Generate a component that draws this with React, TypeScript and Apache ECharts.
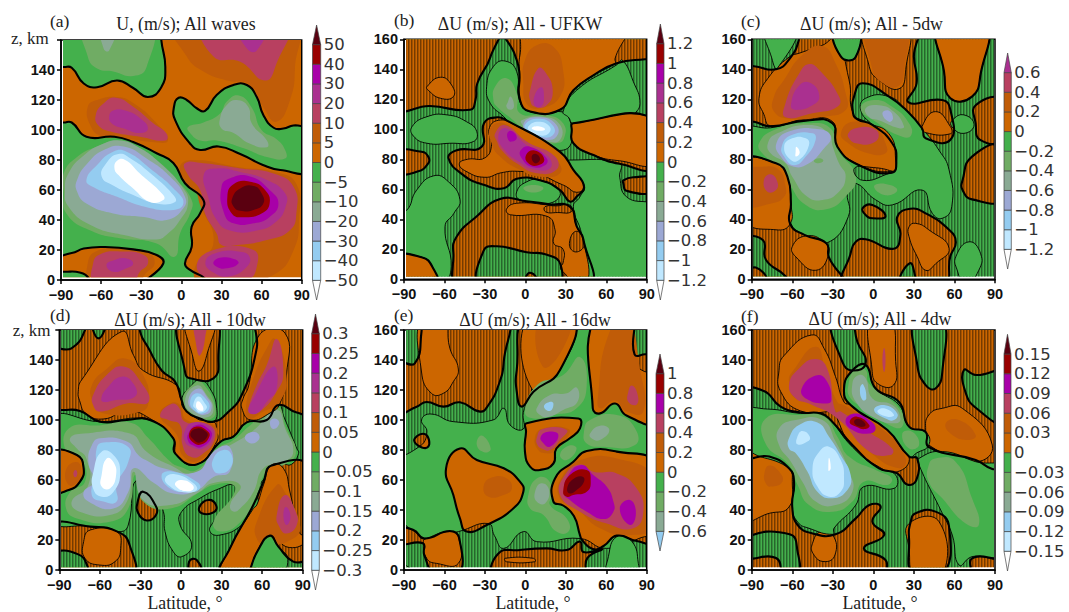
import React, { useEffect, useRef } from "react";
import * as echarts from "echarts";

type Pt = number[];
type Zone = [number, Pt[]];
type Patch = [number, number, Pt[]];

const latitudeTicks = [-90, -60, -30, 0, 30, 60, 90];
const heightTicks = [0, 20, 40, 60, 80, 100, 120, 140, 160];

// Colour levels: -6 white ... 0 green, 1 orange ... 7 maroon; 9 means a significance hatch.
const levelColors: Record<number, string> = {
  [-6]: "#ffffff", [-5]: "#c0e8ff", [-4]: "#94ccf0", [-3]: "#9ca8d4", [-2]: "#8aaa94", [-1]: "#70ac64",
  0: "#44b04c", 1: "#cc6600", 2: "#c05c08", 3: "#b84060", 4: "#aa3090", 5: "#a800a8", 6: "#990000", 7: "#5a0010",
};

const aBarLabels = ["−50", "−40", "−30", "−20", "−10", "−5", "0", "5", "10", "20", "30", "40", "50"];
const bBarLabels = ["−1.2", "−1", "−0.8", "−0.6", "−0.4", "−0.2", "0", "0.2", "0.4", "0.6", "0.8", "1", "1.2"];
const cBarLabels = ["−1.2", "−1", "−0.8", "−0.6", "−0.4", "−0.2", "0", "0.2", "0.4", "0.6"];
const dBarLabels = ["−0.3", "−0.25", "−0.2", "−0.15", "−0.1", "−0.05", "0", "0.05", "0.1", "0.15", "0.2", "0.25", "0.3"];
const eBarLabels = ["−0.6", "−0.4", "−0.2", "0", "0.2", "0.4", "0.6", "0.8", "1"];
const fBarLabels = ["−0.15", "−0.12", "−0.09", "−0.06", "−0.03", "0", "0.03", "0.06", "0.09", "0.12", "0.15"];

const fullBarLevels = [-6, -5, -4, -3, -2, -1, 0, 1, 2, 3, 4, 5, 6, 7];
const cBarLevels = [-6, -5, -4, -3, -2, -1, 0, 1, 2, 3, 4];
const eBarLevels = [-4, -2, -1, 0, 1, 2, 3, 5, 6, 7];
const fBarLevels = [-6, -5, -4, -2, -1, 0, 1, 2, 3, 5, 6, 7];

// ---- Panel (a): U, all waves ----
const aZero: Zone[] = [
  [0, [[-95, 142], [-88, 142], [-82, 141.5], [-73, 131], [-63, 128.5], [-48, 133], [-36, 128], [-25, 122], [-15, 128.5], [-12, 142], [-15, 160], [-15, 170], [-95, 170]]],
  [0, [[-5.5, 115.5], [-2, 121.5], [4, 120], [11.5, 114.5], [17.7, 112.7], [26.4, 123.3], [39, 130], [49, 130], [56.4, 122], [61.3, 110], [69, 101.5], [76.3, 101], [83.8, 103], [90, 102.7], [96, 103], [96, 73.5], [74, 73.3], [61, 76.7], [44, 84], [27.7, 89], [14, 86.7], [6.5, 91], [-4.7, 106.7]]],
  [0, [[-95, 105], [-88, 105], [-82, 105], [-71, 95.5], [-50, 95.5], [-36, 92], [-18.5, 84.5], [-6, 78], [2.7, 64.5], [16.5, 53.3], [14, 44.4], [7.7, 35.5], [7.7, 22], [2.7, 11], [6.5, 6.7], [17.7, 1], [19, -3], [-27, -3], [-13.5, 11], [-18.5, 16.7], [-36, 20.4], [-58, 22], [-73, 21], [-82, 18], [-95, 18]]],
  [0, [[-95, 5.5], [-88, 5.5], [-76, 5], [-69, 1], [-68, -4], [-95, -4]]],
];
const aPatches: Patch[] = [
  [-1, 0, [[-72, 170], [-70, 149], [-63, 141], [-51, 139], [-36, 136], [-26, 142], [-24, 170]]],
  [-2, 0, [[-60, 170], [-58, 154], [-54, 153], [-49, 170]]],
  [-1, 0, [[5, 102], [16.5, 105], [29, 111], [34, 119], [43, 123], [52.6, 115], [60, 100], [71, 94], [77.6, 86.7], [77.6, 81], [64, 82], [46, 88], [26.4, 93], [14, 93], [6.5, 98]]],
  [-2, 0, [[29, 108], [34, 116.7], [41.4, 120], [50, 115.5], [52.6, 104.5], [64, 93], [64, 88.5], [51, 91], [39, 98], [30, 101]]],
  [-1, 0, [[-88, 71], [-78, 82], [-63, 89], [-48, 93], [-36, 90], [-18.5, 80], [-3.5, 66.7], [7.7, 53.3], [6.5, 44.4], [-1, 31], [-5, 15.5], [-18.5, 24.4], [-46, 27.8], [-68, 33], [-86, 44.4], [-88, 57.8]]],
  [-2, 0, [[-84.5, 71], [-73, 83], [-58, 91], [-46, 93], [-33, 89], [-16, 78], [1.5, 61], [5, 51], [-1, 40], [-10, 31], [-18.5, 27], [-43, 30], [-68, 36.7], [-84.5, 49], [-87, 60]]],
  [-3, 0, [[-78, 66.7], [-70, 78], [-58, 86.7], [-43, 89], [-26, 81], [-8.5, 69], [2.7, 55.5], [1.5, 47.8], [-11, 40], [-28, 42], [-51, 44.4], [-71, 51], [-78, 59]]],
  [-4, 0, [[-71, 66.7], [-63, 76.7], [-51, 85.5], [-41, 85.5], [-23.4, 74.4], [-3.5, 59], [1.5, 51], [-6, 46.7], [-28, 49], [-48, 55.5], [-66, 62]]],
  [-5, 0, [[-59.6, 69], [-56, 78], [-47, 84], [-38, 81], [-23, 71], [-6, 56.7], [-4.7, 52], [-18.5, 51], [-36, 56.7], [-51, 63]]],
  [-6, 0, [[-50, 74.4], [-48, 79.5], [-42, 80], [-31, 71], [-13.5, 56.7], [-13.5, 53.3], [-23.4, 52], [-36, 61], [-47, 70]]],
  [2, 0, [[-5, 170], [4, 149], [16.5, 139], [34, 133], [51, 130], [61, 115.5], [71, 105.5], [81.3, 120], [85, 142], [84, 170]]],
  [3, 0, [[16.5, 170], [24, 149], [44, 145.5], [62.6, 133], [71, 144], [78, 170]]],
  [4, 0, [[42, 170], [49, 154.4], [56.4, 153], [62.6, 170]]],
  [2, 0, [[-70, 115.5], [-63, 120], [-48, 122], [-36, 118], [-18.5, 104.5], [-10, 93], [-22, 92], [-45, 95], [-60, 96], [-68, 103]]],
  [3, 0, [[-64, 110], [-58, 117.8], [-49, 121.5], [-36, 115.5], [-21, 104.5], [-11, 97.5], [-12, 93], [-31, 95.5], [-53, 99], [-62, 103]]],
  [4, 0, [[-54, 109], [-51, 113], [-42, 113], [-31, 108], [-25, 101], [-31, 98], [-43, 101], [-52, 104.4]]],
  [2, 0, [[-1, 76], [10, 80], [44, 75], [70, 72], [86, 64], [88, 40], [84, 20], [70, 4], [42, -2], [14, -2], [10, 8], [24, 25], [14, 50], [10, 60], [2, 65]]],
  [3, 0, [[2.7, 77.8], [16.5, 77.8], [44, 74.4], [69, 71], [84, 62], [86, 44.4], [81, 33], [64, 26.7], [41.4, 23.3], [30, 23.3], [26.4, 31], [17.7, 44.4], [14, 60], [5, 70]]],
  [3, 0, [[11.5, 8.9], [24, 20], [54, 20], [56.4, 8.9], [49, 0], [24, 0]]],
  [4, 0, [[18, 12], [26, 18], [44, 18.9], [51, 15.5], [49, 8.9], [36, 2.5], [24, 5]]],
  [5, 0, [[24, 12], [30, 15], [40, 13.8], [42.6, 11], [34, 7.8], [26.4, 8.9]]],
  [4, 0, [[17, 71], [26.4, 74.4], [44, 72], [64, 66.7], [77.6, 57.8], [78, 49], [71, 39], [56.4, 33], [36.4, 33], [26.4, 40], [20, 55.5]]],
  [5, 0, [[30, 62], [36.4, 67.8], [51.4, 69], [66, 60], [72.6, 51], [66, 42], [54, 37.8], [39, 37.8], [32, 44.4]]],
  [6, 0, [[34.4, 55.5], [39, 63.8], [51.4, 65.5], [62.6, 60], [66, 51], [60, 44.4], [46.4, 41.8], [37.7, 44.4]]],
  [7, 0, [[38, 54.4], [44, 61], [54, 62.7], [60, 57.8], [61.3, 51], [54, 46.7], [44, 46.2], [39, 49]]],
  [2, 0, [[-70, 11], [-64, 19], [-46, 21], [-25, 18], [-20, 11], [-27, 4], [-32, -2], [-68, -2]]],
  [3, 0, [[-66, 11], [-61, 17], [-46, 19], [-28, 16.7], [-25, 11], [-31, 5.5], [-36, -1], [-65, -1]]],
  [4, 0, [[-56, 10], [-51, 13], [-41, 14.4], [-36, 11], [-41, 7.8], [-51, 5.5]]],
];

// ---- Panel (b): All - UFKW ----
const bZero: Zone[] = [
  [1, [[-95, 115], [-70.7, 115.5], [-41, 113], [-37, 119.5], [-35.6, 130.7], [-26, 148], [-21, 170], [-95, 170]]],
  [1, [[-16, 170], [-7.7, 149.5], [-4.5, 138.4], [-4, 119.5], [3.5, 111.8], [25.7, 113], [35.6, 126], [50.4, 136], [67.8, 144], [88.8, 146.7], [96, 146.7], [96, 170]]],
  [1, [[-57, 80.7], [-51, 86], [-32.4, 88.4], [-30.7, 104], [-21, 108], [-14, 106], [25.7, 85], [35.6, 73], [43.5, 61.8], [38, 55], [33, 51.8], [25.7, 59.5], [10.9, 66], [-6.4, 67], [-16, 60.7], [-31, 63], [-46, 69.5]]],
  [1, [[-95, 84.7], [-77, 85], [-72, 81.8], [-72, 77.3], [-80, 71.8], [-95, 71.5]]],
  [1, [[-48.5, -4], [-53.4, 17.3], [-51, 28.4], [-36, 42], [-18.8, 53.5], [1, 52], [18, 50], [33, 48.4], [38, 35.5], [43, 26.7], [45.5, -4]]],
  [0, [[-32.4, -4], [-31, 19], [-21, 22], [1, 18], [16, 16.4], [26, 10], [23, -4]]],
  [1, [[-1, -4], [0.5, 1.8], [3.5, 4.4], [8.4, 1], [9, -4]]],
  [1, [[-95, 14.7], [-77, 14.7], [-69, 8.4], [-66, -4], [-95, -4]]],
  [1, [[35.6, 104], [96, 106.7], [96, 75], [70, 77], [50, 83], [35.6, 90.7], [34.4, 99.5]]],
  [1, [[72.7, 66], [80, 68], [96, 67], [96, 58.4], [75, 59], [72.7, 63.8]]],
];
const bPatches: Patch[] = [
  [0, 1, [[-84, 101.8], [-73, 108.4], [-58, 109.6], [-43.5, 105], [-36, 98.4], [-38.6, 91.8], [-56, 90.7], [-73, 90.7], [-83, 95.5]]],
  [0, 1, [[-95, 46], [-88, 46], [-80.6, 59.5], [-68, 69], [-57, 65], [-48.5, 53], [-53, 44], [-59.6, 35], [-55, 8.4], [-61, -4], [-66, -4], [-69, 8.4], [-77, 14.7], [-95, 14.7]]],
  [0, 1, [[-28.7, 128.4], [-23.7, 141.8], [-15, 145.5], [-6.4, 138.4], [-4.5, 119.5], [3.5, 111.8], [25.7, 111.8], [32, 108.4], [34, 90.7], [23, 86], [1, 92.9], [-16, 108.4], [-26, 117.3]]],
  [-1, 0, [[-23.7, 119.5], [-22.5, 128.4], [-14, 134], [-6.4, 124], [-4, 110.7], [15.8, 109.6], [28, 104], [28.7, 94], [23, 90.7], [6, 92.9], [-9, 106], [-21, 115]]],
  [-2, 0, [[-14, 115], [-13, 118], [-11, 121.8], [-8.4, 115.5], [-11, 113]]],
  [-2, 0, [[-2.7, 106], [13.4, 108.4], [25.7, 103], [25.7, 92.9], [15.8, 91.8], [3.5, 95], [-1.5, 101.8]]],
  [-3, 0, [[-1, 104.4], [10.9, 108], [23, 103], [23, 95], [13.4, 92.9], [3.5, 95]]],
  [-4, 0, [[-0.3, 103], [10.9, 107], [20.8, 102], [20.3, 96], [10.9, 94.7], [3.5, 97]]],
  [-5, 0, [[2.2, 101.8], [9.6, 105], [18, 101.8], [17, 97], [9.6, 96], [3.5, 98.4]]],
  [-6, 0, [[4.7, 100.7], [9.6, 102], [14.6, 100], [9.6, 99]]],
  [0, 1, [[33, 79.5], [70, 77], [70, 68], [75, 55], [96, 47], [96, -4], [45.5, -4], [41.7, 30], [35.6, 48.4], [40.5, 55], [43.5, 62.9], [30.7, 77]]],
  [0, 1, [[28, 111.8], [38, 126], [67.8, 143], [72, 146], [80, 132], [85, 117], [80, 108], [82, 106], [35.6, 104], [32, 108]]],
  [0, 1, [[-6.4, 58.4], [1, 65], [10.9, 66], [25.7, 58.4], [18, 50.7], [-4, 53]]],
  [-1, 0, [[-1.5, 60.7], [6, 62.9], [13.4, 60.7], [6, 57.8]]],
  [1, 1, [[2, 170], [-4, 149.5], [-4.5, 138.4], [-4, 119.5], [3.5, 111.8], [25.7, 113], [35.6, 126], [50.4, 136], [66.5, 144], [66.5, 147], [74, 170]]],
  [2, 0, [[-0.3, 146], [8.4, 156], [20.8, 155], [28, 139.5], [25.7, 121.8], [10.9, 114], [1, 117], [-1.5, 130.7]]],
  [3, 0, [[3.5, 126], [9.6, 140.7], [14.6, 138.4], [20.3, 126], [15.8, 116], [7, 115], [3.5, 119.5]]],
  [4, 0, [[7, 122.9], [12, 128], [13.8, 121.8], [12, 115.5], [7.2, 115.5]]],
  [1, 1, [[-49, 77], [-43, 80], [-30, 81], [-25, 90], [-27, 100], [-20, 106], [-8, 103], [25.7, 85], [35.6, 73], [43.5, 61.8], [38, 58], [30, 62], [25, 64], [10, 70], [-6, 72], [-18, 71], [-30, 68], [-44, 72]]],
  [2, 0, [[-26, 100.7], [-16, 104], [-1.5, 93], [23, 79.5], [25.7, 70.7], [10.9, 68.4], [-4, 73], [-18.8, 81.8], [-25, 90.7]]],
  [3, 0, [[-22.5, 97], [-15, 102.7], [1, 91.8], [22, 81.8], [23, 73], [8.4, 70.7], [-6.4, 77.3], [-17.5, 86], [-21, 91.8]]],
  [4, 0, [[-20, 96], [-14, 100.7], [1, 89.6], [17, 81.8], [18.3, 74], [6, 73.3], [-4, 77.8], [-16, 86.7]]],
  [5, 0, [[-13, 98], [-9, 98.4], [-6.4, 94], [-10, 91.8], [-12.6, 92.9]]],
  [5, 0, [[-3.5, 86], [3.5, 88.4], [15.8, 80.7], [14.6, 76], [4.7, 75], [-2.7, 80.7]]],
  [6, 0, [[0.5, 82.9], [7, 85.8], [14, 80], [9.6, 76], [2.2, 77.3]]],
  [7, 0, [[4.7, 81.8], [7.9, 83.6], [10.9, 80], [7.2, 77.3]]],
  [1, 1, [[-73, 128.4], [-63, 134.7], [-54.7, 129.5], [-53.4, 121.8], [-63, 120.7], [-72, 126]]],
  [1, 1, [[-14, 46.7], [-11, 43], [16, 42], [22, 33], [21, 24], [28, 20], [28, 11], [26, 7.3], [31, 1.8], [32, -4], [45.5, -4], [43, 26.7], [38, 35.5], [34, 48], [18, 49.5], [-6.4, 50.7]]],
  [9, 1, [[14.6, 48.4], [24, 49], [33, 49.5], [34, 45], [24, 44.5], [15, 45]]],
  [9, 1, [[38, 32], [43, 26], [42, 20], [35, 19], [33, 26]]],
  [1, 1, [[-95, 14.7], [-77, 14.7], [-69, 8.4], [-66, -4], [-95, -4]]],
  [1, 1, [[35.6, 104], [96, 106.7], [96, 78], [70, 79], [50, 83], [35.6, 90.7], [34.4, 99.5]]],
];

// ---- Panel (c): All - 5dw ----
const cZero: Zone[] = [
  [1, [[-95, 142], [-88.3, 142], [-72, 140], [-62, 147], [-55, 160], [-55, 170], [31, 170], [30, 148.4], [32, 130.7], [26, 118], [51, 119.5], [57, 113], [57, 93], [38.7, 94], [36, 100.7], [24, 113], [11.6, 121.8], [-8, 130.7], [-14.3, 121.8], [-15, 110.7], [-11.8, 106.7], [-0.7, 103], [14, 90.7], [17, 79.5], [13.6, 71], [-10.6, 76], [-26.6, 88.4], [-30.3, 104], [-50, 105.8], [-76, 102], [-88.3, 105], [-95, 105]]],
  [0, [[-29, 170], [-24, 148.4], [-13, 148.4], [-11.8, 170]]],
  [1, [[48.6, 170], [52.3, 138.4], [57, 120.7], [73, 121.8], [79.4, 137], [82.6, 170]]],
  [1, [[-95, 77.8], [-72, 77.3], [-63.6, 68.4], [-61, 50.7], [-61.6, 36.9], [-51, 29.6], [-34.8, 24], [-33, 15], [-23, -4], [-95, -4]]],
  [0, [[-95, 26.7], [-81.6, 26], [-79.5, 13], [-65, 2], [-63, -4], [-75, -4], [-81, 4], [-87, 7.8], [-95, 7.8]]],
  [1, [[-21, -4], [-16.8, 17.3], [-13, 25], [-5.7, 26.7], [15, 20.4], [20, 29.6], [17.7, 41.6], [27.4, 47], [38.7, 44], [56, 33], [61, 24.9], [57, 15.5], [51, -4]]],
  [0, [[19, -4], [27, 10.7], [31, 1.8], [31.5, -4]]],
  [1, [[-8, 47.3], [-0.7, 49.6], [9, 42], [-0.7, 40.7], [-5.7, 42.9]]],
  [1, [[75.7, 116], [96, 119.5], [96, 93], [79, 93], [75.7, 103.8]]],
  [1, [[66, 66], [73, 81.8], [96, 88.4], [96, 54], [73, 53.3], [66, 59.5]]],
];
const cPatches: Patch[] = [
  [0, 1, [[-95, 100], [-76, 101], [-50, 105.8], [-30.3, 104], [-26.6, 88.4], [-10.6, 76], [13.6, 71], [17, 79.5], [14, 90.7], [-0.7, 103], [-9.4, 112.9], [-5.7, 120.7], [11.6, 121.8], [24, 113], [36, 100.7], [48.6, 86], [56, 73], [58, 48.4], [51, 40.7], [43.6, 44], [36, 59.5], [14, 49.6], [1.7, 53], [-13, 64], [-19, 59.5], [-18.5, 41.8], [-35, 24], [-51, 29.6], [-61, 37.3], [-61, 50.7], [-63.6, 68.4], [-72, 77.3], [-95, 77.8]]],
  [1, 1, [[-84.6, 120.7], [-78, 134], [-62, 148.4], [-55, 150.7], [-37.7, 156], [-28, 160], [-18, 133], [-15, 110.7], [-5.7, 105], [11.6, 97], [16.5, 79.5], [14, 72], [-11.8, 77], [-28, 90.7], [-30, 105], [-50, 106.7], [-76, 102.4], [-81, 110]]],
  [2, 0, [[-73.5, 121.8], [-66, 133], [-52.5, 149.5], [-37.7, 155.5], [-28, 144], [-20.5, 124], [-20.5, 112.9], [-37.7, 108.4], [-62, 107], [-73.5, 111.8]]],
  [3, 0, [[-65, 117.3], [-55, 137], [-47.6, 143.5], [-40, 139.5], [-25.4, 121.8], [-26.6, 115], [-45, 110.7], [-65, 108]]],
  [4, 0, [[-61, 116], [-54.5, 129.5], [-46, 130.7], [-40, 121.8], [-45, 116], [-57.4, 112.9]]],
  [2, 0, [[-24, 97.3], [-15.5, 105], [1.7, 100.7], [9, 90.7], [9, 84], [-4, 84], [-19, 91]]],
  [3, 0, [[-18.5, 97.3], [-13, 100.7], [-0.7, 100.7], [4, 96], [-0.7, 90.7], [-13, 90.7], [-18, 94]]],
  [1, 1, [[-5.7, 170], [-3, 141.8], [4, 133], [19, 127], [24, 140], [24, 170]]],
  [2, 0, [[-4.5, 170], [-1, 141], [5, 132], [18, 128.5], [23, 141], [23, 170]]],
  [1, 1, [[48.6, 170], [52.3, 138.4], [57, 120.7], [73, 121.8], [79.4, 137], [82.6, 170]]],
  [1, 1, [[-95, 77.8], [-72, 77.3], [-63.6, 68.4], [-61, 50.7], [-61.6, 36.9], [-72, 33], [-95, 40]]],
  [2, 0, [[-95, 72], [-82, 75], [-70, 73], [-65, 62], [-66, 55], [-74.7, 50.7], [-95, 50]]],
  [3, 0, [[-81, 66], [-76, 70], [-71, 65], [-72, 59.5], [-78.4, 58.4]]],
  [1, 1, [[-60, 21.8], [-50, 28.9], [-36.5, 25], [-33, 17], [-42.6, 6], [-57.4, 15]]],
  [1, 1, [[26.4, 35], [31.3, 37.3], [41, 33], [56, 20.7], [46, 10.3], [38.7, 6], [32.5, 15], [26.4, 28.4]]],
  [1, 1, [[36, 101.8], [46, 111.8], [57, 101.8], [57, 97], [38.7, 97.8]]],
  [-1, 0, [[-84.6, 90.7], [-72, 100], [-48, 104], [-31.8, 100.7], [-26.8, 87], [-13, 68.4], [-20.7, 55], [-35, 46.7], [-50, 49.6], [-61, 62], [-66, 72.9], [-81, 82.9]]],
  [-2, 0, [[-78, 90.7], [-71, 97.3], [-48, 102.9], [-33, 97.3], [-30, 88.4], [-25.4, 77.3], [-20.5, 68.4], [-26.6, 57.3], [-37.7, 52.9], [-48.8, 55], [-60, 68.4], [-65, 77.3], [-76, 84]]],
  [-1, 0, [[-44, 79], [-40, 80.7], [-37, 79], [-41, 77.3]]],
  [-3, 0, [[-71.7, 90.7], [-62, 98.7], [-40, 100], [-31.5, 95], [-37.7, 86], [-47.6, 77.3], [-58.7, 75], [-68.5, 81.8]]],
  [-4, 0, [[-67.8, 88.4], [-61, 96], [-45, 97.3], [-42.7, 92.9], [-50, 81.8], [-58.7, 76], [-66, 81.8]]],
  [-5, 0, [[-66, 88.4], [-60, 94], [-50, 94], [-47.6, 89.6], [-55, 79.5], [-61, 79.5]]],
  [-6, 0, [[-57.5, 85], [-57, 88.4], [-54.5, 84.4], [-57.4, 81.8]]],
  [-1, 0, [[-9.4, 114], [0.5, 119.5], [14, 115], [26.4, 104], [28, 96], [21.4, 95], [1.7, 105]]],
  [-2, 0, [[-5.7, 114], [4, 116], [15, 111.8], [22.7, 101.8], [19, 100.7], [4, 106], [-3, 108]]],
  [-3, 0, [[6.7, 110.7], [11.6, 112.4], [14.5, 107.3], [11.6, 105]]],
  [-1, 0, [[0.5, 61.8], [9, 63.6], [17.7, 59.5], [9, 56]]],
  [0, 1, [[-79.6, 170], [-74.7, 146], [-71, 140.7], [-56, 170]]],
  [0, 1, [[-29, 170], [-24, 148.4], [-13, 148.4], [-11.8, 170]]],
  [0, 1, [[58.4, 106], [67, 109.6], [74.5, 103], [67, 97.3], [58, 101.8]]],
  [0, 1, [[61, 15], [70.8, 25], [79.4, 17], [78, 6], [68, -4], [62, 6.2]]],
  [9, 1, [[-14, 74], [-8, 66], [13, 71], [14, 72], [0, 74.5]]],
];

// ---- Panel (d): All - 10dw ----
const dZero: Zone[] = [
  [1, [[-95, 146], [-81, 147.8], [-71, 160], [-71, 170], [-30.3, 170], [-30.3, 159], [-24, 147.8], [-14.3, 133], [-4.4, 125.6], [0.5, 113], [4.2, 105.6], [14, 101], [24, 98.9], [33.8, 104.4], [44.9, 116.7], [56, 147.8], [57, 170], [95, 170], [95, 105], [85.6, 105], [72, 110], [63.4, 100], [48.6, 98.4], [38.7, 88.9], [30, 86], [11.6, 70.4], [-4.4, 77.8], [-5.7, 87.8], [-23, 100], [-40, 100], [-60, 98.9], [-74.7, 106], [-88.3, 106.7], [-95, 106.7]]],
  [1, [[-1, 170], [3, 132], [6.7, 127.8], [24, 127.8], [27.6, 141], [24, 170]]],
  [1, [[-95, 77.8], [-77, 76.7], [-72, 67.8], [-74.7, 58.9], [-83, 53.3], [-95, 52.7]]],
  [1, [[30, -4], [36.2, 14.4], [53.5, 43.3], [61, 58.9], [67, 69.6], [95, 67.8], [95, -4]]],
  [0, [[50, -4], [51, 0], [57, 13.3], [65.8, 22.9], [72, 15.6], [83, 5.6], [95, 5], [95, -4]]],
  [1, [[-95, 28.9], [-67, 28.9], [-47, 25.6], [-38, 16.7], [-37, -4], [-95, -4]]],
  [0, [[-95, 10.4], [-76, 10.4], [-67.8, 0], [-67, -4], [-95, -4]]],
  [1, [[-32, 45.6], [-28, 52.2], [-19, 43.3], [-18.5, 36.7], [-25.4, 33], [-31.6, 37.8]]],
  [1, [[13.6, 42], [20, 46.7], [25.9, 43.3], [24, 38.4], [15.3, 37.8]]],
  [1, [[6, 5.6], [11.6, 6.7], [15.3, -4], [8, -4]]],
  [0, [[-66, 170], [-61, 154.4], [-55, 170]]],
];
const dPatches: Patch[] = [
  [0, 1, [[-95, 100], [-60, 98.9], [-23, 100], [-5.7, 87.8], [-4.4, 77.8], [11.6, 70.4], [28.8, 85.6], [38.7, 88.9], [48.6, 98.4], [72, 110], [75.7, 103], [85.6, 81], [87, 77.8], [81.6, 70.4], [74, 70.4], [61.6, 61], [56.6, 52], [56.6, 43], [45, 30], [28.8, 23.3], [21.5, 25.6], [24, 32], [41, 51], [38.7, 56.7], [28.8, 54.4], [14, 47.8], [0.5, 38.9], [-0.7, 30], [7.9, 16.7], [0.5, 8.9], [-5.7, 12.2], [-11.8, 25.6], [-13, 38.9], [-18, 45.6], [-32.8, 60], [-39, 30], [-45, 25.6], [-67, 28.9], [-95, 34.4]]],
  [-1, 0, [[-83, 94.4], [-60, 96.4], [-36.7, 98], [-24, 87.8], [-8, 72.4], [-0.7, 68.9], [11.6, 66.7], [26.4, 81], [38.7, 86.7], [51, 96.4], [70.8, 108.9], [78, 94.4], [85, 79], [78, 71], [63.4, 65.5], [56, 50], [44, 32], [29, 25.6], [24, 32], [38.7, 50], [38.7, 56.7], [24, 56.7], [14, 52], [-8, 41], [-28, 45.6], [-34, 63.3], [-39, 41], [-52.5, 32.2], [-77, 34.4], [-85, 41], [-82, 52], [-71, 58.9], [-74, 74.4], [-85, 79]]],
  [-2, 0, [[-82, 87.8], [-72, 91], [-37.7, 91], [-25.4, 78.9], [-8, 70], [11.6, 63.3], [24, 78], [38.7, 84.4], [53.5, 93], [70.8, 106.7], [77, 94.4], [83, 78.9], [75.7, 72], [61, 67.8], [53.5, 52], [43.7, 41], [38.7, 39], [36.3, 43.3], [43.7, 56.7], [24, 58], [11.6, 51], [-8, 43.3], [-28, 46.7], [-35, 65.5], [-40, 45.6], [-52.5, 36.7], [-75, 38.9], [-80.8, 45.6], [-68.5, 56.7], [-70, 74.4], [-77, 81]]],
  [-3, 0, [[-66, 83], [-60, 87.8], [-40, 85.6], [-31.6, 76.7], [-25.4, 73], [-13, 67.8], [11.6, 65.5], [24, 78.9], [36, 82], [36, 65.5], [24, 62], [11.6, 53], [-5.6, 51], [-20, 58], [-35, 67.8], [-39, 52], [-50, 41], [-68.5, 45.6], [-72, 52], [-64.6, 58.9], [-68.5, 72]]],
  [-3, 0, [[47.3, 88.9], [54.7, 92], [58, 87.8], [52, 84.4]]],
  [-3, 0, [[65.8, 98.9], [69.5, 101], [72.7, 97.8], [68.3, 94]]],
  [-4, 0, [[-62.4, 81], [-57.4, 85], [-39, 82], [-39, 72], [-47.6, 56.7], [-47.6, 45.6], [-57.4, 45.6], [-66, 50], [-62.4, 65.5]]],
  [-4, 0, [[24, 74.4], [31.3, 80], [37.5, 76.7], [36.3, 67.8], [28.8, 64.4], [24, 66.7]]],
  [-4, 0, [[-14.3, 63.3], [-5.7, 65.5], [11.6, 58.9], [14, 54.4], [6.7, 52], [-8, 54.4]]],
  [-5, 0, [[-64.8, 65.5], [-58.7, 78.9], [-50, 76.7], [-45, 65.5], [-50, 52], [-58.7, 48.9], [-65, 54.4]]],
  [-5, 0, [[-11.8, 61], [-4.4, 63.8], [9, 58], [11.6, 53.3], [1.7, 51.8], [-8, 55.6]]],
  [-6, 0, [[-58.7, 63.3], [-55, 74.4], [-50, 72], [-48, 63.3], [-52.5, 54.4], [-58.7, 55.6]]],
  [-6, 0, [[-4.4, 57.8], [0.5, 60], [8.6, 56.7], [8.6, 53.3], [3, 52.7], [-2, 54.4]]],
  [1, 1, [[-76, 119], [-73.5, 126.7], [-44, 158.9], [-35, 143], [-28, 133], [-3, 123], [0.5, 113], [11.6, 101], [24, 98.9], [26.4, 93], [26.4, 85.6], [11.6, 70.4], [-3, 76], [-5.7, 87.8], [-23, 101], [-40, 106], [-57, 100.7], [-70, 104], [-75, 112.9]]],
  [2, 0, [[-66, 123], [-55, 134], [-41.4, 141], [-28, 130], [-24, 112], [-30, 105.5], [-57, 104.4], [-65, 112]]],
  [3, 0, [[-65, 116.7], [-55, 130], [-42.6, 135.6], [-30, 125.6], [-24, 112], [-40, 111], [-60, 105.6], [-65, 110]]],
  [4, 0, [[-59, 114], [-55, 121], [-44, 128.9], [-35, 124], [-34, 115.6], [-50, 113], [-57, 112]]],
  [2, 0, [[-15.5, 103], [-8, 111], [-0.7, 110], [4, 100], [24, 96.7], [26.4, 87.8], [14, 73.3], [1.7, 75.6], [-3, 90]]],
  [3, 0, [[-15.5, 103], [-8, 110.4], [-2, 109], [3, 98.9], [21.4, 96.7], [25, 87.8], [15, 76.7], [6.7, 75.6], [1.2, 83], [-0.7, 96.7], [-9.4, 100]]],
  [4, 0, [[3, 93], [9, 98.4], [21.4, 95.6], [24, 89], [16.5, 81], [8, 82], [3, 85.6]]],
  [5, 0, [[5.4, 91], [11.6, 96.7], [20, 94.4], [22.7, 89], [15.3, 82], [9, 83], [5.4, 85.6]]],
  [6, 0, [[6, 91], [11.6, 95.6], [19.5, 92.7], [21, 89], [15.3, 83.8], [9, 85]]],
  [7, 0, [[7, 91], [12, 94.4], [18.5, 92.2], [19.5, 89], [14, 85], [9.6, 86.7]]],
  [0, 1, [[0.5, 113.3], [6.7, 122], [14, 126.7], [21.4, 121], [26.4, 107.8], [24, 98.9], [14, 101], [4.2, 105.6]]],
  [-1, 0, [[1.2, 113], [11.6, 125.6], [16.5, 124], [25, 110], [22.7, 101], [9, 103.3]]],
  [-2, 0, [[3, 113], [11.6, 123], [19, 116.7], [24, 107.8], [20, 102], [9, 104]]],
  [-3, 0, [[5.4, 113], [12.8, 121], [20, 114.4], [22.7, 108.9], [19, 103.8], [10.4, 105.6]]],
  [-4, 0, [[6.7, 112], [11.6, 117.8], [19, 113.3], [21, 107.8], [16.5, 104.4], [10.4, 106]]],
  [-5, 0, [[9, 110], [12.8, 115.6], [17.7, 111], [19, 107.8], [14, 105], [10.4, 107.8]]],
  [-6, 0, [[11.6, 112], [14, 112], [16.5, 106.7], [12, 107.3]]],
  [1, 1, [[4.2, 170], [9, 141], [13.3, 132.6], [19, 143], [24, 170]]],
  [3, 0, [[10, 170], [11.6, 147.8], [14, 143], [17.7, 154], [18.2, 170]]],
  [1, 1, [[46, 114.4], [49.8, 122], [58, 156.7], [77, 157.8], [78, 130], [73, 110.7], [66.5, 105], [51.7, 100], [45, 107.8]]],
  [2, 0, [[48, 107.8], [53.5, 127.8], [63.4, 147.8], [69.5, 154], [78, 130], [73, 112], [61, 105.6], [50, 101]]],
  [3, 0, [[50, 107.8], [56, 123.3], [63.4, 136.7], [70.8, 154], [75.7, 132], [70.8, 119], [58.4, 105.6], [51, 104.4]]],
  [4, 0, [[50, 105.6], [53.5, 114.4], [68.3, 135.6], [70.8, 121], [63.4, 112], [56, 104.4]]],
  [1, 1, [[-95, 77.8], [-77, 76.7], [-72, 67.8], [-74.7, 58.9], [-83, 53.3], [-95, 52.7]]],
  [2, 0, [[-85, 67], [-77, 72], [-73.5, 65.5], [-76, 58.9], [-83, 56.7]]],
  [3, 0, [[-79.6, 64.4], [-78, 66.7], [-76.7, 64.4], [-78.2, 61.8]]],
  [1, 1, [[30, -4], [36, 14.4], [53.5, 41], [56, 43.3], [61, 56.7], [67, 70], [75.7, 67.8], [80.6, 52], [88, 24.4], [95, 24], [95, 20], [80, 15], [65.8, 22.9], [57, 13.3], [51, -4]]],
  [2, 0, [[56, 32], [70.8, 56.7], [76.7, 52], [88, 30], [83, 21], [63.4, 16.7], [56, 21]]],
  [3, 0, [[70.8, 36.7], [76.9, 50], [84.3, 40], [85.6, 30], [78, 24.4], [72.7, 28.9]]],
  [4, 0, [[75.7, 36.7], [77.7, 42], [81, 35.6], [78, 30]]],
  [1, 1, [[-72, 18.9], [-67, 26.7], [-47.6, 25.6], [-44.6, 14.4], [-48.8, 5.6], [-60, 3.3], [-71, 7.8]]],
  [0, 1, [[50, -4], [51, 0], [57, 13.3], [65.8, 22.9], [72, 15.6], [79, 7], [72, -4]]],
];

// ---- Panel (e): All - 16dw ----
const eZero: Zone[] = [
  [1, [[-95, 137.8], [-82, 137.8], [-77, 159], [-77, 170], [-16, 170], [-16, 139], [-20, 123], [-27.4, 110], [-33.6, 105.6], [-48.5, 111.8], [-60.8, 108.9], [-73.2, 112], [-80.6, 108.9], [-95, 105]]],
  [1, [[1, 170], [-6.4, 133.3], [-6.4, 119], [-2.7, 108.9], [6, 118.9], [25.7, 133.3], [35.6, 170]]],
  [1, [[51.7, 170], [50, 107.8], [55.4, 104.4], [66.5, 111], [75, 103], [96, 99.3], [96, 143.8], [88.8, 143.8], [81, 143.8], [77.6, 170]]],
  [1, [[1, 97.8], [39.3, 101], [40.5, 94.4], [33, 87.8], [23, 81], [20.8, 71], [10.9, 66.7], [3.5, 68.9], [-0.3, 78.9], [0.5, 92.2]]],
  [1, [[-58.8, 67.8], [-48.5, 81], [-36, 73.3], [-16, 67.8], [-4, 58.9], [-1.5, 52.2], [-9, 41], [-28.7, 30], [-43.5, 25.6], [-48.5, 34.4], [-53.4, 50]]],
  [1, [[20.8, 45.6], [22, 61], [35.6, 72.2], [45.5, 79.3], [67.8, 78.9], [96, 70], [96, 19], [82.6, 19.3], [67.8, 22.9], [58, 16], [50, 14], [42, 20], [40.5, 23.3], [36, 36], [28, 43]]],
  [1, [[-82, 87.8], [-74, 90.4], [-72, 82.2], [-80, 83.3]]],
  [1, [[-95, 27.3], [-83, 26.7], [-75, 21], [-56, 26], [-49, 21], [-49.7, -4], [-66, -4], [-75, 10], [-76, 17.8], [-95, 17.8]]],
  [1, [[-22.5, -4], [-20, 11], [-4, 13.3], [15.8, 14.4], [30.7, 13.3], [40.5, 19], [43, 12], [57, 14], [46, 8], [42, -4]]],
];
const ePatches: Patch[] = [
  [9, 1, [[-95, 170], [2.2, 170], [4.7, 121], [-1.5, 105], [-1.5, 94], [-11.4, 96.7], [-16, 107.8], [-24, 100], [-53.4, 98.9], [-70, 104], [-77, 100], [-73, 92], [-79, 82], [-95, 79]]],
  [9, 1, [[77.6, 170], [96, 170], [96, 134], [85, 134], [81, 143.8]]],
  [9, 1, [[-95, 32], [-84, 26.7], [-73.2, 21], [-49.7, 25.6], [-27.4, 31], [-23, 23], [-16, 14.4], [-1.5, 25.6], [8.4, 18.9], [40.5, 21], [60, 14.4], [96, 21], [96, -4], [-95, -4]]],
  [1, 1, [[-77, 170], [-77, 132], [-69.7, 117.8], [-60.8, 117.8], [-53.4, 125.6], [-49.7, 134], [-56, 147.8], [-61, 170]]],
  [1, 1, [[2.2, 170], [4.7, 121], [25.7, 133.3], [35.6, 170]]],
  [2, 0, [[10.9, 170], [12.9, 135.6], [28, 147.8], [32, 170]]],
  [1, 1, [[-75.7, 18.9], [-73.2, 21], [-56, 25.6], [-49.7, 22], [-49.7, 4.4], [-65.8, 4.4], [-73.2, 7.8]]],
  [1, 1, [[-15, 7.8], [6, 7.8], [7, 5.5], [-14, 5.5]]],
  [0, 1, [[-95, 5], [-80, -4], [-95, -4]]],
  [0, 1, [[61.6, -4], [61.6, 8.9], [67.8, 22.2], [79, 19], [83.8, 4.4], [83, -4]]],
  [2, 0, [[54, 116.7], [61.6, 156.7], [75, 170], [85, 134], [87.5, 105.6], [75, 105.6], [66.5, 113], [55.4, 107.8]]],
  [3, 0, [[76.4, 119], [79, 123], [83, 117.8], [82.6, 110.4], [76.4, 112]]],
  [2, 0, [[7.2, 88.9], [13.4, 94.4], [32, 94], [30.7, 87.8], [20.8, 78.9], [15.8, 77.8], [9.6, 80]]],
  [3, 0, [[8.4, 87.8], [12.9, 94], [30.7, 93.3], [25.7, 86.7], [18.3, 80], [12, 81], [9, 83.3]]],
  [5, 0, [[11.4, 88.9], [17, 92.2], [24.5, 90], [18.3, 82.2], [12.9, 85]]],
  [2, 0, [[-31, 55.6], [-25, 61.6], [-13.8, 61], [-10, 54.4], [-16, 50], [-27.4, 48.9]]],
  [2, 0, [[25, 48.9], [28, 63.3], [40.5, 73.3], [67.8, 74.4], [96, 61], [96, 30], [77.6, 23.3], [55.4, 27.8], [38, 41]]],
  [3, 0, [[25.7, 50], [29.4, 63.3], [40.5, 70.4], [50.4, 65.5], [67.8, 64.4], [82.6, 54.4], [87.5, 38.9], [80, 27.8], [60.3, 31], [40.5, 38.9]]],
  [5, 0, [[28.7, 51], [32, 63.3], [41.8, 70], [50.4, 63.3], [60.3, 55.6], [65.3, 45.6], [65.3, 38.9], [58, 34], [45.5, 38.9], [33, 46.7]]],
  [5, 0, [[70, 41], [77.6, 46.7], [82, 37.8], [77.6, 30]]],
  [6, 0, [[28, 52.2], [33, 63.3], [45.5, 66.7], [48.5, 58.9], [45.5, 52.2], [35.6, 50], [30.7, 48.9]]],
  [7, 0, [[31, 54.4], [35.6, 60.7], [42.5, 62.2], [43.5, 58.9], [38, 53.3], [33, 51]]],
  [-1, 0, [[-36, 83.3], [-32.4, 89.6], [-25.7, 81], [-30, 78.4]]],
  [-1, 0, [[-0.3, 105.6], [8.4, 123], [28, 130], [40.5, 142], [45.5, 123], [38, 107.8], [20.8, 103.3], [6, 101]]],
  [-2, 0, [[8.4, 107.8], [18.3, 116.7], [30.7, 117.8], [38, 121.6], [38.6, 112], [28, 106.7], [17, 102], [10.9, 103.3]]],
  [-4, 0, [[13.8, 108.9], [17.8, 112], [20.8, 111], [18.3, 106]]],
  [-1, 0, [[43.5, 92.2], [48, 100], [67.8, 103.3], [81.4, 94.4], [81.4, 83.3], [57.9, 82.2], [45.5, 84.4]]],
  [-2, 0, [[48, 91], [55.4, 96.2], [62.3, 93.3], [55.4, 86.7], [49, 87.8]]],
  [-1, 0, [[25.7, 76.7], [32, 82.9], [38, 81], [30.7, 73.3]]],
  [-1, 0, [[2.2, 50], [8.4, 61], [17, 60], [19.5, 50], [18.3, 43.3], [30.7, 34.4], [32, 25.6], [23, 25.6], [13.4, 36.7], [3.5, 41]]],
  [-2, 0, [[7.2, 52.2], [12, 57.8], [17.6, 53.3], [14.6, 44.4], [8.4, 45.6]]],
];

// ---- Panel (f): All - 4dw ----
const fZero: Zone[] = [
  [0, [[-95, 119], [-81, 119.3], [-68.6, 108.9], [-53.7, 105], [-39, 104.4], [-31.6, 100], [-15.5, 83.3], [4.2, 67.8], [17.7, 64.4], [25, 57], [31.8, 60], [32.5, 74.4], [26.4, 75.6], [10.4, 93.3], [-16.8, 110], [-21.7, 121], [-15.5, 133], [-5.7, 136.7], [1.7, 121], [19, 112], [26.4, 95.6], [38.7, 92], [41, 82], [75.7, 73.3], [88, 67.3], [96, 67.3], [96, 11], [73, 7.8], [70.8, -4], [11.6, -4], [9, 6.7], [-7, 14.4], [8, 23.3], [-0.7, 32.2], [5.4, 42.2], [-3, 43.3], [-13, 34.4], [-28, 23.8], [-45, 24.4], [-56, 30], [-60, 42], [-58.7, 58.9], [-62.4, 67.8], [-77, 75.6], [-95, 76.7]]],
  [1, [[30, -4], [26.4, 21], [27.6, 32], [31.3, 37.8], [46, 38.9], [56, 28.9], [51, -4]]],
  [0, [[-95, 21], [-62, 23.8], [-56, 12], [-56, -4], [-66, -4], [-72, 8], [-95, 8.9]]],
  [0, [[-31.6, 170], [-23, 138.9], [-15.5, 133], [-5.7, 137.8], [-11.8, 152], [-18, 170]]],
  [0, [[31.3, 170], [32.5, 136.7], [38.7, 123.3], [46, 121], [51, 132], [50.5, 170]]],
  [0, [[67, 133.3], [75.7, 130], [96, 131], [96, 98.9], [76, 108], [68, 119]]],
];
const fPatches: Patch[] = [
  [1, 1, [[-69.8, 133], [-66, 143], [-45.6, 156.7], [-36.5, 147.8], [-28, 128.9], [-21.7, 112], [-16.8, 110], [10.4, 93.3], [26.4, 75.6], [17.7, 65.5], [1.7, 70], [-15.5, 82.2], [-26.6, 100.7], [-26.6, 105], [-53.7, 106], [-68.6, 119]]],
  [2, 0, [[-60, 132], [-42.6, 148.9], [-35, 132], [-26.6, 112], [-21.7, 110], [10.4, 91], [24, 74.4], [19, 67.8], [-3, 79], [-23, 99], [-34, 110], [-57.4, 114.4], [-62.4, 125.6]]],
  [3, 0, [[-62.4, 123.3], [-55, 134.4], [-42.6, 140.7], [-34, 134], [-28, 105.6], [-24, 105.6], [-5.7, 93.3], [14, 81], [12.8, 76.7], [-3, 79], [-26.6, 101], [-47.6, 111], [-57.4, 114.4]]],
  [5, 0, [[-53, 121], [-42.6, 129.6], [-35, 126.7], [-31, 113.3], [-35, 111], [-50, 114.4]]],
  [5, 0, [[-20.5, 100], [-13, 104.4], [-3, 100], [1.7, 94.4], [-3, 91], [-15.5, 93.3]]],
  [6, 0, [[-17.5, 98.9], [-12, 102.2], [-3, 96.7], [-5.7, 94], [-13, 95.6]]],
  [7, 0, [[-14.3, 98.9], [-10.6, 100.7], [-5.7, 96.7], [-10.6, 95.6]]],
  [1, 1, [[-95, 34.4], [-77, 37.8], [-62.4, 42], [-60, 58.9], [-62.4, 67.8], [-77, 75.6], [-95, 76.7]]],
  [2, 0, [[-80.6, 64.4], [-77, 69.6], [-69.8, 65.6], [-67.3, 58.9], [-76, 55.6], [-79.6, 57.8]]],
  [1, 1, [[-45, 17.8], [-39, 25.6], [-30, 23.3], [-28.4, 10], [-36.5, 5.6], [-44.6, 11]]],
  [1, 1, [[41, 103.3], [51, 107.8], [65.8, 107.8], [88, 83.3], [75.7, 72.2], [41, 83.3], [38.7, 93.3]]],
  [2, 0, [[53.5, 97.8], [63.4, 100], [75.7, 90], [70.8, 86.7], [58.4, 90]]],
  [1, 1, [[26.4, 31], [48.6, 32.2], [51, -4], [31.3, -4], [26.4, 14.4]]],
  [1, 1, [[-2, 170], [-1, 134], [3, 124.4], [15, 123.3], [16.5, 139], [12, 170]]],
  [3, 0, [[6.7, 140], [8, 132], [9, 140], [8, 148]]],
  [0, 1, [[-95, 105.6], [-78.4, 107.3], [-53.7, 104.4], [-37.7, 104.4], [-31.6, 100], [-15.5, 82], [4.2, 67.8], [16.5, 63.3], [15.3, 54.4], [-7, 55.6], [-13, 43.3], [-29, 28], [-30, 23.8], [-47.6, 27.8], [-56, 32], [-60, 42], [-58.7, 58.9], [-62.4, 67.8], [-95, 83]]],
  [-1, 0, [[-79.6, 101], [-55, 103.3], [-36.5, 102.2], [-26.6, 88.9], [-18, 75.6], [4.2, 65.6], [13.6, 61], [10.4, 56.7], [-7, 58.9], [-15.5, 45.6], [-30, 38.9], [-47.6, 43.3], [-56, 56.7], [-62.4, 70], [-79.6, 84]]],
  [-2, 0, [[-69.8, 94.4], [-57.4, 100], [-37.7, 100], [-27.9, 85.6], [-18, 65.6], [-15.5, 52.2], [-27.9, 43.3], [-42.6, 45.6], [-52.5, 58.9], [-61, 72.2], [-69.8, 83.3]]],
  [-4, 0, [[-62.4, 87.8], [-55, 96.7], [-41.4, 98.4], [-32.8, 88.9], [-24.2, 76.7], [-16.8, 63.3], [-19.2, 53.3], [-30.3, 47.8], [-41.4, 52.2], [-48.8, 65.6], [-57.4, 77.8], [-62.4, 81]]],
  [-5, 0, [[-56.2, 88.9], [-52.5, 92.7], [-47, 88.9], [-48.8, 85.6], [-56.2, 83.8]]],
  [-5, 0, [[-45, 67.8], [-40, 78.9], [-32.8, 82.2], [-24.2, 73.3], [-21.7, 61], [-24.2, 52.2], [-32.8, 48.9], [-41.4, 55.6]]],
  [-6, 0, [[-33.3, 67.8], [-32.8, 74.9], [-31.5, 67.8], [-33, 66]]],
  [0, 1, [[-21.7, 121], [-15.5, 133], [-5.7, 136.7], [1.7, 121], [19, 110], [26.4, 95.6], [38.7, 92], [41, 83.3], [32, 78], [26.4, 75.6], [10.4, 93.3], [-16.8, 110]]],
  [-1, 0, [[-18.5, 123.3], [-13, 134], [-5.7, 133.3], [-3.2, 124.4], [19, 107.8], [21.4, 95.6], [11.6, 96.7], [-5.7, 107.8], [-16.8, 114.4]]],
  [-2, 0, [[-15.5, 124.4], [-10.6, 130], [-5.7, 127.8], [-0.7, 114.4], [14, 110], [20, 101], [16.5, 97.8], [1.7, 101], [-13, 112.2]]],
  [-4, 0, [[-9.9, 121], [-7.6, 123.8], [-5.2, 114.4], [-8, 113.3]]],
  [-4, 0, [[0.5, 106.7], [7.9, 110], [17.7, 104.4], [15.3, 100], [9, 101]]],
  [-5, 0, [[3, 105.6], [7.9, 107.8], [15.3, 103.3], [10.4, 102.2]]],
  [0, 1, [[33.8, 74.4], [51, 79], [75.7, 72.2], [96, 66.7], [96, 10], [73, 8.9], [63.4, 3.3], [58.4, 23.3], [51, 37.8], [33.8, 70]]],
  [-1, 0, [[41, 70], [46, 74.4], [60.8, 72.2], [73, 47.8], [78, 30], [68.3, 31], [51, 47.8], [41, 58.9]]],
  [-1, 0, [[21.4, 91], [28.8, 92.2], [33.8, 83.3], [26.4, 81]]],
];

const panels = [
  { tag: "(a)", title: "U, (m/s); All waves", base: 1, hatchAll: false, zero: aZero, patches: aPatches, box: [61, 40, 301.7, 280], tagX: 50, tagY: 21, titleX: 186, titleY: 24, zLabel: [11, 38], latX: 0, latY: 0, bar: [312.5, 25, 320.7, 300], barLabels: aBarLabels, barLevels: fullBarLevels },
  { tag: "(b)", title: "ΔU (m/s); All - UFKW", base: 0, hatchAll: true, zero: bZero, patches: bPatches, box: [404, 39.3, 646.7, 279.3], tagX: 394, tagY: 20, titleX: 520, titleY: 24, zLabel: null, latX: 0, latY: 0, bar: [656.7, 24, 664, 300], barLabels: bBarLabels, barLevels: fullBarLevels },
  { tag: "(c)", title: "ΔU (m/s); All - 5dw", base: 0, hatchAll: true, zero: cZero, patches: cPatches, box: [751.7, 39.3, 995, 279.3], tagX: 741, tagY: 21, titleX: 871.5, titleY: 24, zLabel: null, latX: 0, latY: 0, bar: [1004, 53, 1011.3, 269], barLabels: cBarLabels, barLevels: cBarLevels },
  { tag: "(d)", title: "ΔU (m/s); All - 10dw", base: 0, hatchAll: true, zero: dZero, patches: dPatches, box: [59.3, 330, 302.7, 570], tagX: 50, tagY: 315, titleX: 190, titleY: 320, zLabel: [12.7, 330], latX: 185, latY: 603, bar: [311.7, 314, 319.3, 590], barLabels: dBarLabels, barLevels: fullBarLevels },
  { tag: "(e)", title: "ΔU (m/s); All - 16dw", base: 0, hatchAll: false, zero: eZero, patches: ePatches, box: [404, 330, 646.7, 570], tagX: 394, tagY: 315, titleX: 535, titleY: 320, zLabel: null, latX: 533, latY: 603, bar: [656, 354, 664, 551], barLabels: eBarLabels, barLevels: eBarLevels },
  { tag: "(f)", title: "ΔU (m/s); All - 4dw", base: 1, hatchAll: true, zero: fZero, patches: fPatches, box: [751.7, 330, 995, 570], tagX: 741, tagY: 316, titleX: 880, titleY: 319, zLabel: null, latX: 880, latY: 603, bar: [1004, 334.3, 1011, 571], barLabels: fBarLabels, barLevels: fBarLevels },
];

const SERIF = "Liberation Serif";
const SANS = "Liberation Sans";

function stripeImage(): string {
  const c = document.createElement("canvas");
  c.width = 3;
  c.height = 4;
  const g = c.getContext("2d")!;
  g.fillStyle = "rgba(0,0,0,0.42)";
  g.fillRect(0, 0, 1, 4);
  g.fillStyle = "rgba(0,0,0,0.2)";
  g.fillRect(1, 0, 1, 4);
  return c.toDataURL();
}

function buildOption() {
  const stripe = { image: stripeImage(), repeat: "repeat", imageWidth: 3, imageHeight: 4 } as any;
  const grid: any[] = [];
  const xAxis: any[] = [];
  const yAxis: any[] = [];
  const series: any[] = [];
  const graphic: any[] = [];

  panels.forEach((p) => {
    const [x0, y0, x1, y1] = p.box;
    const w = x1 - x0;
    const h = y1 - y0;
    // frame and axes
    const frameIndex = grid.length;
    grid.push({ left: x0, top: y0, width: w, height: h, show: true, borderColor: "#000", borderWidth: 1.5, backgroundColor: "#fff" });
    xAxis.push({
      gridIndex: frameIndex, type: "value", min: -90, max: 90, interval: 30, splitLine: { show: false },
      axisLine: { show: true, onZero: false, lineStyle: { color: "#000", width: 1.5 } },
      axisTick: { show: true, length: 4, lineStyle: { color: "#000", width: 1.5 } },
      axisLabel: { margin: 7, color: "#111", fontFamily: SANS, fontWeight: "bold", fontSize: 14.5, customValues: latitudeTicks, formatter: (v: number) => String(v).replace("-", "−") },
    });
    yAxis.push({
      gridIndex: frameIndex, type: "value", min: 0, max: 160, interval: 20, splitLine: { show: false },
      axisLine: { show: true, onZero: false, lineStyle: { color: "#000", width: 1.5 } },
      axisTick: { show: true, length: 4, lineStyle: { color: "#000", width: 1.5 } },
      axisLabel: { margin: 6, color: "#111", fontFamily: SANS, fontWeight: "bold", fontSize: 14.5, customValues: heightTicks, formatter: (v: number) => (p.zLabel && v === 160 ? "" : String(v)) },
    });

    // filled contour area, slightly inset from the frame as in the source figure
    const latMin = -88.3, latMax = 88.8, zMin = 1.8, zMax = 160;
    const fillIndex = grid.length;
    grid.push({
      left: x0 + ((latMin + 90) / 180) * w, top: y0, width: ((latMax - latMin) / 180) * w, height: ((zMax - zMin) / 160) * h,
    });
    xAxis.push({ gridIndex: fillIndex, type: "value", min: latMin, max: latMax, show: false });
    yAxis.push({ gridIndex: fillIndex, type: "value", min: zMin, max: zMax, show: false });

    const items: any[] = [];
    const sheet = [[-100, -10], [100, -10], [100, 175], [-100, 175]];
    items.push({ level: p.base, line: 0, pts: sheet, smooth: 0 });
    p.zero.forEach(([level, pts]) => items.push({ level, line: 0, pts, smooth: 0.5 }));
    if (p.hatchAll) items.push({ level: 9, line: 0, pts: sheet, smooth: 0 });
    p.patches.forEach(([level, line, pts]) => items.push({ level, line, pts, smooth: 0.5 }));
    p.zero.forEach(([, pts]) => items.push({ level: -99, line: 2, pts, smooth: 0.5 }));

    series.push({
      type: "custom", xAxisIndex: fillIndex, yAxisIndex: fillIndex, clip: true, silent: true,
      data: items.map((_, i) => [i]),
      renderItem: (params: any, api: any) => {
        const it = items[params.dataIndex];
        const points = it.pts.map((q: number[]) => api.coord(q));
        const fill = it.level === -99 ? "none" : it.level === 9 ? stripe : levelColors[it.level];
        return {
          type: "polygon", shape: { points, smooth: it.smooth }, silent: true,
          style: { fill, stroke: it.line ? "#000" : "none", lineWidth: it.line === 2 ? 2.1 : it.line === 1 ? 0.9 : 0 },
        };
      },
    });

    // colour bar
    const [bx0, by0, bx1, by1] = p.bar;
    const n = p.barLabels.length;
    const barIndex = grid.length;
    grid.push({ left: bx0, top: by0, width: bx1 - bx0, height: by1 - by0 });
    xAxis.push({ gridIndex: barIndex, type: "value", min: 0, max: 1, show: false });
    yAxis.push({
      gridIndex: barIndex, type: "value", position: "right", min: -1, max: n, interval: 1, splitLine: { show: false },
      axisLine: { show: false }, axisTick: { show: false },
      axisLabel: {
        margin: 3, color: "#333", fontFamily: "DejaVu Sans", fontSize: 16.5, showMinLabel: false, showMaxLabel: false,
        formatter: (v: number) => (v >= 0 && v < n ? p.barLabels[v] : ""),
      },
    });
    series.push({
      type: "custom", xAxisIndex: barIndex, yAxisIndex: barIndex, clip: false, silent: true,
      data: p.barLevels.map((_: number, i: number) => [i]),
      renderItem: (params: any, api: any) => {
        const i = params.dataIndex;
        const last = p.barLevels.length - 1;
        let pts: number[][];
        if (i === 0) pts = [[0, 0], [1, 0], [0.5, -1]];
        else if (i === last) pts = [[0, n - 1], [1, n - 1], [0.5, n]];
        else pts = [[0, i - 1], [1, i - 1], [1, i], [0, i]];
        return {
          type: "polygon", shape: { points: pts.map((q) => api.coord(q)) }, silent: true,
          style: { fill: levelColors[p.barLevels[i]], stroke: "#444", lineWidth: 0.7 },
        };
      },
    });

    // texts
    const text = (t: string, x: number, y: number, size: number, align = "left") =>
      graphic.push({
        type: "text", silent: true, x, y,
        style: { text: t, fill: "#222", font: `${size}px "${SERIF}"`, textAlign: align, textVerticalAlign: "middle" },
      });
    text(p.tag, p.tagX, p.tagY, 17.5);
    text(p.title, p.titleX, p.titleY, 17.8, "center");
    if (p.zLabel) text("z, km", p.zLabel[0], p.zLabel[1], 17);
    if (p.latX) text("Latitude, °", p.latX, p.latY, 17.8, "center");
  });

  return { animation: false, backgroundColor: "#fff", grid, xAxis, yAxis, series, graphic };
}

export default function App() {
  const ref = useRef<HTMLDivElement>(null);
  useEffect(() => {
    const chart = echarts.init(ref.current!, undefined, { renderer: "svg" });
    chart.setOption(buildOption() as any);
    return () => chart.dispose();
  }, []);
  return <div ref={ref} style={{ position: "fixed", left: 0, top: 0, width: 1069, height: 612 }} />;
}
